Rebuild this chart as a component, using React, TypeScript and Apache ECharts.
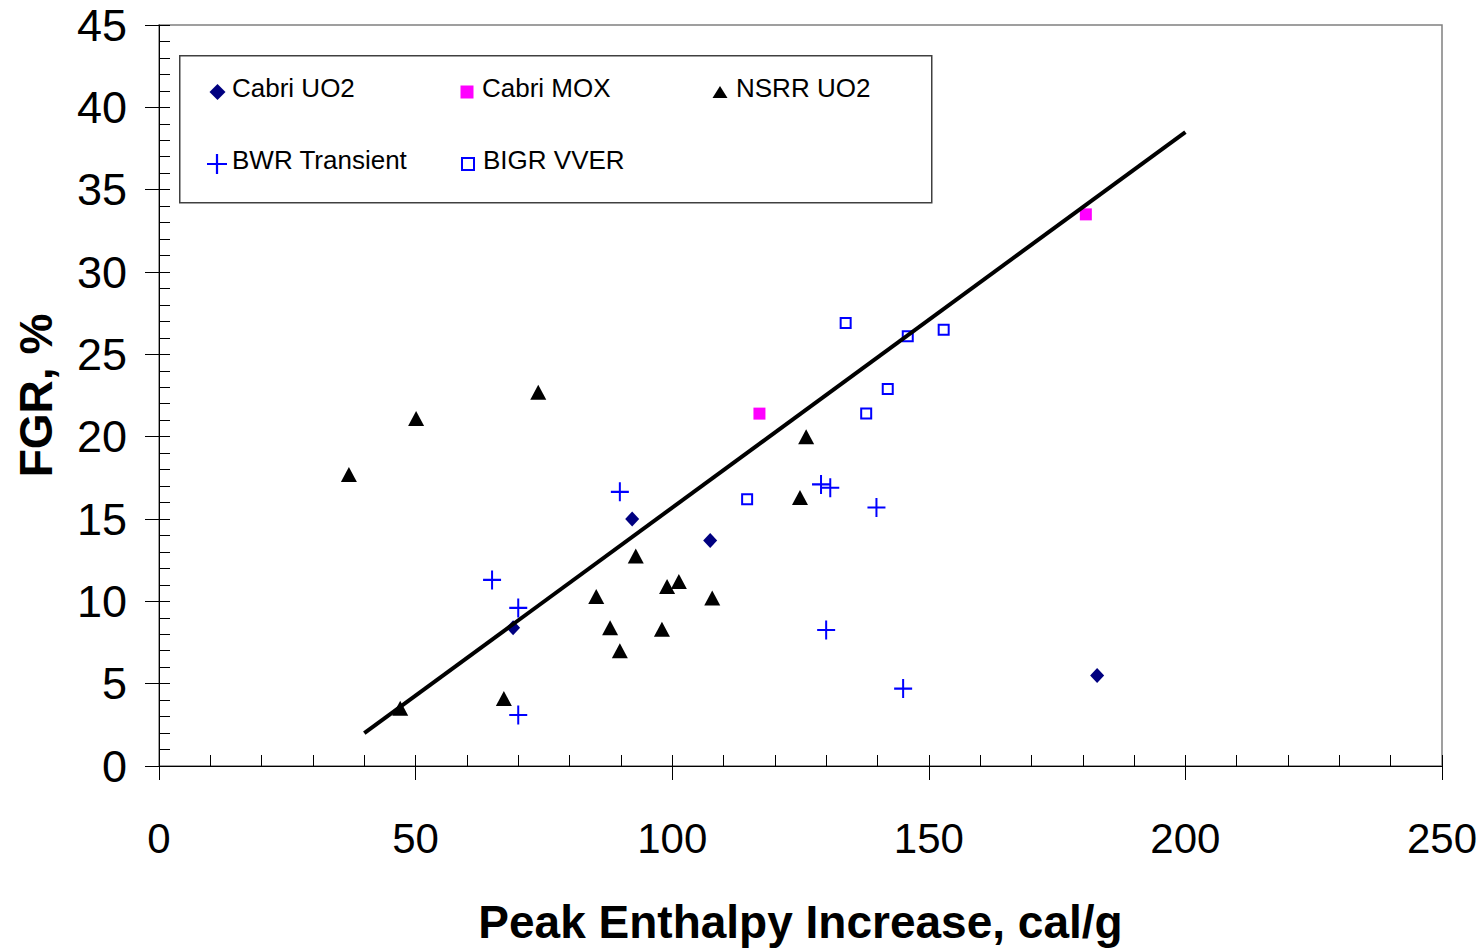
import React, { useEffect, useRef } from "react";
import * as echarts from "echarts";

// Axis ranges and tick steps
const X_MIN = 0;
const X_MAX = 250;
const X_MAJOR = 50;
const X_MINOR = 10;
const Y_MIN = 0;
const Y_MAX = 45;
const Y_MAJOR = 5;
const Y_MINOR = 1;

const X_TITLE = "Peak Enthalpy Increase, cal/g";
const Y_TITLE = "FGR, %";

// Series data: [peak enthalpy increase (cal/g), FGR (%)]
const cabriUO2 = [
  [92.2, 15.0],
  [107.4, 13.7],
  [69.0, 8.4],
  [182.8, 5.5],
];
const cabriMOX = [
  [117.0, 21.4],
  [180.6, 33.5],
];
const nsrrUO2 = [
  [37.0, 17.7],
  [50.1, 21.1],
  [73.9, 22.7],
  [47.0, 3.5],
  [67.2, 4.1],
  [85.2, 10.3],
  [87.9, 8.4],
  [89.8, 7.0],
  [92.9, 12.75],
  [98.0, 8.3],
  [99.0, 10.9],
  [101.3, 11.2],
  [107.8, 10.2],
  [126.1, 20.0],
  [124.9, 16.3],
];
const bwrTransient = [
  [89.8, 16.65],
  [64.9, 11.3],
  [70.0, 9.6],
  [70.0, 3.1],
  [129.0, 17.1],
  [130.8, 16.9],
  [139.8, 15.7],
  [130.0, 8.26],
  [145.0, 4.7],
];
const bigrVVER = [
  [133.8, 26.9],
  [145.9, 26.1],
  [152.9, 26.5],
  [142.0, 22.9],
  [137.8, 21.4],
  [114.6, 16.2],
];
const fitLine = [
  [40, 2.0],
  [200, 38.5],
];

const NAMES = ["Cabri UO2", "Cabri MOX", "NSRR UO2", "BWR Transient", "BIGR VVER"];

const PLUS = "path://M8,0L10,0L10,8L18,8L18,10L10,10L10,18L8,18L8,10L0,10L0,8L8,8Z";

export default function App() {
  const ref = useRef<HTMLDivElement>(null);

  useEffect(() => {
    const chart = echarts.init(ref.current as HTMLDivElement, null, { renderer: "svg" });
    const font = "'Liberation Sans', Arial, sans-serif";
    const gridRect = { left: 159, right: 41, top: 25, bottom: 185 };
    // cx, cy: icon centre; tx: text start; w, h: icon size
    const mkLegend = (name: string, cx: number, tx: number, cy: number, w: number, h: number) => ({
      data: [name],
      left: cx - w / 2,
      top: cy - 17,
      itemWidth: w,
      itemHeight: h,
      padding: 0,
      itemGap: 0,
      selectedMode: false,
      formatter: "{a|{name}}",
      textStyle: {
        fontFamily: font,
        fontSize: 26,
        color: "#000",
        rich: {
          a: {
            fontFamily: font,
            fontSize: 26,
            color: "#000",
            lineHeight: 26,
            padding: [0, 0, 8, Math.max(0, tx - (cx + w / 2) - 5)],
          },
        },
      },
      itemStyle: { opacity: 1 },
    });

    chart.setOption({
      animation: false,
      backgroundColor: "#ffffff",
      grid: [
        {
          ...gridRect,
          show: true,
          borderColor: "#808080",
          borderWidth: 1.5,
          backgroundColor: "transparent",
          outerBoundsMode: "none",
        },
        { ...gridRect, outerBoundsMode: "none" },
      ],
      xAxis: [
        {
          type: "value",
          gridIndex: 0,
          min: X_MIN,
          max: X_MAX,
          interval: X_MAJOR,
          axisLine: { show: true, onZero: false, lineStyle: { color: "#000", width: 1 } },
          axisTick: { show: true, inside: false, length: 14, lineStyle: { color: "#000", width: 1 } },
          axisLabel: { margin: 51, fontSize: 42, fontFamily: font, color: "#000" },
          splitLine: { show: false },
          name: X_TITLE,
          nameLocation: "middle",
          nameGap: 133,
          nameTextStyle: { fontSize: 46, fontWeight: "bold", fontFamily: font, color: "#000" },
        },
        {
          type: "value",
          gridIndex: 1,
          min: X_MIN,
          max: X_MAX,
          interval: X_MINOR,
          axisLine: { show: false, onZero: false },
          axisTick: { show: true, inside: true, length: 11, lineStyle: { color: "#000", width: 1 } },
          axisLabel: { show: false },
          splitLine: { show: false },
        },
      ],
      yAxis: [
        {
          type: "value",
          gridIndex: 0,
          min: Y_MIN,
          max: Y_MAX,
          interval: Y_MAJOR,
          axisLine: { show: true, onZero: false, lineStyle: { color: "#000", width: 1 } },
          axisTick: { show: true, inside: false, length: 14, lineStyle: { color: "#000", width: 1 } },
          axisLabel: { margin: 32, fontSize: 45, fontFamily: font, color: "#000" },
          splitLine: { show: false },
          name: Y_TITLE,
          nameLocation: "middle",
          nameGap: 100,
          nameTextStyle: { fontSize: 46, fontWeight: "bold", fontFamily: font, color: "#000" },
        },
        {
          type: "value",
          gridIndex: 1,
          min: Y_MIN,
          max: Y_MAX,
          interval: Y_MINOR,
          axisLine: { show: false, onZero: false },
          axisTick: { show: true, inside: true, length: 11, lineStyle: { color: "#000", width: 1 } },
          axisLabel: { show: false },
          splitLine: { show: false },
        },
      ],
      graphic: [
        {
          type: "rect",
          left: 179,
          top: 55,
          shape: { width: 752, height: 147 },
          style: { fill: "transparent", stroke: "#404040", lineWidth: 1.5 },
          z: 5,
        },
      ],
      legend: [
        mkLegend(NAMES[0], 217.5, 232, 92, 16, 16),
        mkLegend(NAMES[1], 467, 482, 92, 13, 13),
        mkLegend(NAMES[2], 720, 736, 92, 15, 12),
        mkLegend(NAMES[3], 217, 232, 164, 20, 20),
        mkLegend(NAMES[4], 467, 482, 164, 12, 12),
      ],
      series: [
        {
          name: NAMES[0],
          type: "scatter",
          data: cabriUO2,
          symbol: "diamond",
          symbolSize: [14, 15],
          itemStyle: { color: "#000080", opacity: 1 },
          z: 3,
        },
        {
          name: NAMES[1],
          type: "scatter",
          data: cabriMOX,
          symbol: "rect",
          symbolSize: [12, 12],
          itemStyle: { color: "#FF00FF", opacity: 1 },
          z: 3,
        },
        {
          name: NAMES[2],
          type: "scatter",
          data: nsrrUO2,
          symbol: "triangle",
          symbolSize: [16, 15],
          itemStyle: { color: "#000000", opacity: 1 },
          z: 3,
        },
        {
          name: NAMES[3],
          type: "scatter",
          data: bwrTransient,
          symbol: PLUS,
          symbolSize: [18, 19],
          itemStyle: { color: "#0000FF", opacity: 1 },
          z: 3,
        },
        {
          name: NAMES[4],
          type: "scatter",
          data: bigrVVER,
          symbol: "rect",
          symbolSize: [10, 10],
          itemStyle: {
            color: "rgba(255,255,255,0)",
            borderColor: "#0000FF",
            borderWidth: 2,
            opacity: 1,
          },
          z: 3,
        },
        {
          name: "Fit",
          type: "line",
          data: fitLine,
          symbol: "none",
          lineStyle: { color: "#000", width: 4 },
          silent: true,
          z: 4,
        },
      ],
    });

    return () => {
      chart.dispose();
    };
  }, []);

  return (
    <div
      ref={ref}
      style={{ position: "absolute", left: 0, top: 0, width: 1483, height: 951, background: "#fff" }}
    />
  );
}
